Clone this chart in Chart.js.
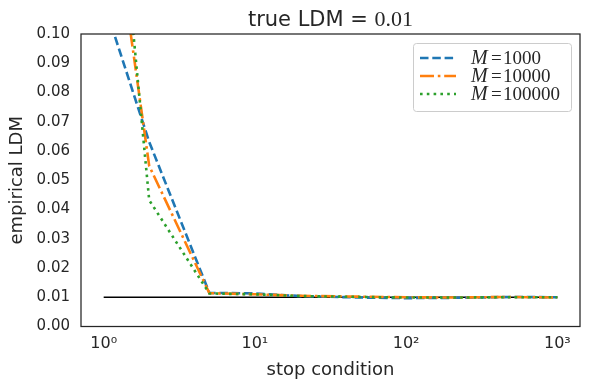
<!DOCTYPE html>
<html>
<head>
<meta charset="utf-8">
<script src="https://cdn.jsdelivr.net/npm/chart.js@4.4.0/dist/chart.umd.min.js"></script>
<style>
  html, body { margin: 0; padding: 0; background: #fff; }
  #wrap { width: 590px; height: 390px; }
</style>
</head>
<body>
<div id="wrap"><canvas id="ldmChart"></canvas></div>
<script>
// stop condition values (x) and the empirical LDM
const stopConditions = [1, 2, 5, 10, 20, 50, 100, 200, 500, 1000];
const ldmM1000   = [0.111, 0.0631, 0.0115, 0.0113, 0.0104, 0.0099, 0.0097, 0.0098, 0.0101, 0.0100];
const ldmM10000  = [0.166, 0.0549, 0.0114, 0.0110, 0.0105, 0.0102, 0.0100, 0.0099, 0.0101, 0.0099];
const ldmM100000 = [0.207, 0.0432, 0.0113, 0.0110, 0.0104, 0.0101, 0.0099, 0.0099, 0.0100, 0.0100];
const trueLdmX = [1, 1000];
const trueLdmY = [0.01, 0.01];

const legendLabels = ['M=1000', 'M=10000', 'M=100000'];
const xTickValues = [1, 10, 100, 1000];
const xTickLabels = ['10\u2070', '10\u00b9', '10\u00b2', '10\u00b3'];
const yTickValues = [0, 0.01, 0.02, 0.03, 0.04, 0.05, 0.06, 0.07, 0.08, 0.09, 0.10];

const textColor = '#262626';

function toPoints(xs, ys) {
  return xs.map((x, i) => ({ x: x, y: ys[i] }));
}

// title with the number set in a serif face, like matplotlib mathtext
const titlePlugin = {
  id: 'mixedTitle',
  afterDraw(chart) {
    const ctx = chart.ctx;
    const area = chart.chartArea;
    const sansPart = 'true LDM = ';
    const serifPart = '0.01';
    ctx.save();
    ctx.fillStyle = textColor;
    ctx.textBaseline = 'alphabetic';
    ctx.font = '21px "DejaVu Sans"';
    const w1 = ctx.measureText(sansPart).width;
    ctx.font = '22px "Liberation Serif"';
    const w2 = ctx.measureText(serifPart).width;
    const x0 = (area.left + area.right) / 2 - (w1 + w2) / 2;
    ctx.font = '21px "DejaVu Sans"';
    ctx.fillText(sansPart, x0, 26);
    ctx.font = '22px "Liberation Serif"';
    ctx.fillText(serifPart, x0 + w1, 26);
    ctx.restore();
  }
};

// box frame round the plot, drawn above the lines like the spines
const framePlugin = {
  id: 'frame',
  afterDatasetsDraw(chart) {
    const { ctx, chartArea: a } = chart;
    ctx.save();
    ctx.strokeStyle = textColor;
    ctx.lineWidth = 1.25;
    ctx.strokeRect(a.left, a.top, a.right - a.left, a.bottom - a.top);
    ctx.restore();
  }
};

// legend box in the upper right corner
const legendPlugin = {
  id: 'boxLegend',
  afterDatasetsDraw(chart) {
    const { ctx, chartArea: a } = chart;
    const items = chart.data.datasets.filter(d => d.inLegend);
    const boxW = 158, boxH = 68;
    const left = a.right - 9 - boxW;
    const top = a.top + 9;
    ctx.save();
    ctx.beginPath();
    ctx.roundRect(left + 0.5, top + 0.5, boxW, boxH, 3);
    ctx.fillStyle = 'rgba(255,255,255,0.8)';
    ctx.fill();
    ctx.strokeStyle = '#cccccc';
    ctx.lineWidth = 1;
    ctx.stroke();

    items.forEach((ds, i) => {
      const cy = top + 15 + i * 18;
      ctx.beginPath();
      ctx.setLineDash(ds.borderDash || []);
      ctx.lineCap = 'butt';
      ctx.strokeStyle = ds.borderColor;
      ctx.lineWidth = ds.borderWidth;
      ctx.moveTo(left + 7, cy);
      ctx.lineTo(left + 43, cy);
      ctx.stroke();
      ctx.setLineDash([]);

      const parts = ds.label.split('=');
      const tx = left + 58;
      ctx.fillStyle = textColor;
      ctx.textBaseline = 'middle';
      ctx.font = 'italic 20px "Liberation Serif"';
      ctx.fillText(parts[0], tx, cy + 1);
      ctx.font = '19px "Liberation Serif"';
      ctx.fillText('=', tx + 20, cy + 1);
      ctx.fillText(parts[1], tx + 32, cy + 1);
    });
    ctx.restore();
  }
};

const canvas = document.getElementById('ldmChart');
new Chart(canvas.getContext('2d'), {
  type: 'line',
  data: {
    datasets: [
      {
        label: 'true',
        data: toPoints(trueLdmX, trueLdmY),
        borderColor: '#000000',
        borderWidth: 1.5,
        order: 4,
        inLegend: false
      },
      {
        label: legendLabels[0],
        data: toPoints(stopConditions, ldmM1000),
        borderColor: '#1f77b4',
        borderWidth: 2.6,
        borderDash: [8.5, 3.8],
        order: 3,
        inLegend: true
      },
      {
        label: legendLabels[1],
        data: toPoints(stopConditions, ldmM10000),
        borderColor: '#ff7f0e',
        borderWidth: 2.6,
        borderDash: [14, 3.8, 2.6, 3.8],
        order: 2,
        inLegend: true
      },
      {
        label: legendLabels[2],
        data: toPoints(stopConditions, ldmM100000),
        borderColor: '#2ca02c',
        borderWidth: 2.6,
        borderDash: [2.6, 4.2],
        order: 1,
        inLegend: true
      }
    ]
  },
  options: {
    responsive: true,
    maintainAspectRatio: false,
    animation: false,
    layout: { padding: { top: 34, right: 10, left: 0, bottom: 0 } },
    elements: {
      point: { radius: 0, hoverRadius: 0 },
      line: { tension: 0, fill: false, borderCapStyle: 'butt' }
    },
    scales: {
      x: {
        type: 'logarithmic',
        bounds: 'data',
        min: 0.708,
        max: 1412,
        grid: { display: false, drawTicks: false },
        border: { display: false },
        afterBuildTicks: s => { s.ticks = xTickValues.map(v => ({ value: v })); },
        afterFit: s => { s.height = 63.5; },
        ticks: {
          padding: 8,
          color: textColor,
          font: { family: 'DejaVu Sans', size: 16 },
          maxRotation: 0,
          autoSkip: false,
          callback: (v, i) => xTickLabels[i]
        },
        title: {
          display: true,
          text: 'stop condition',
          color: textColor,
          font: { family: 'DejaVu Sans', size: 18 },
          padding: { top: 0, bottom: 9 }
        }
      },
      y: {
        type: 'linear',
        min: 0,
        max: 0.1,
        grid: { display: false, drawTicks: false },
        border: { display: false },
        afterBuildTicks: s => { s.ticks = yTickValues.map(v => ({ value: v })); },
        afterFit: s => { s.width = 81; },
        ticks: {
          padding: 11,
          color: textColor,
          font: { family: 'DejaVu Sans', size: 15 },
          autoSkip: false,
          callback: v => v.toFixed(2)
        },
        title: {
          display: true,
          text: 'empirical LDM',
          color: textColor,
          font: { family: 'DejaVu Sans', size: 18 },
          padding: { top: 7, bottom: 0 }
        }
      }
    },
    plugins: {
      legend: { display: false },
      title: { display: false },
      tooltip: { enabled: false }
    }
  },
  plugins: [framePlugin, legendPlugin, titlePlugin]
});
</script>
</body>
</html>
